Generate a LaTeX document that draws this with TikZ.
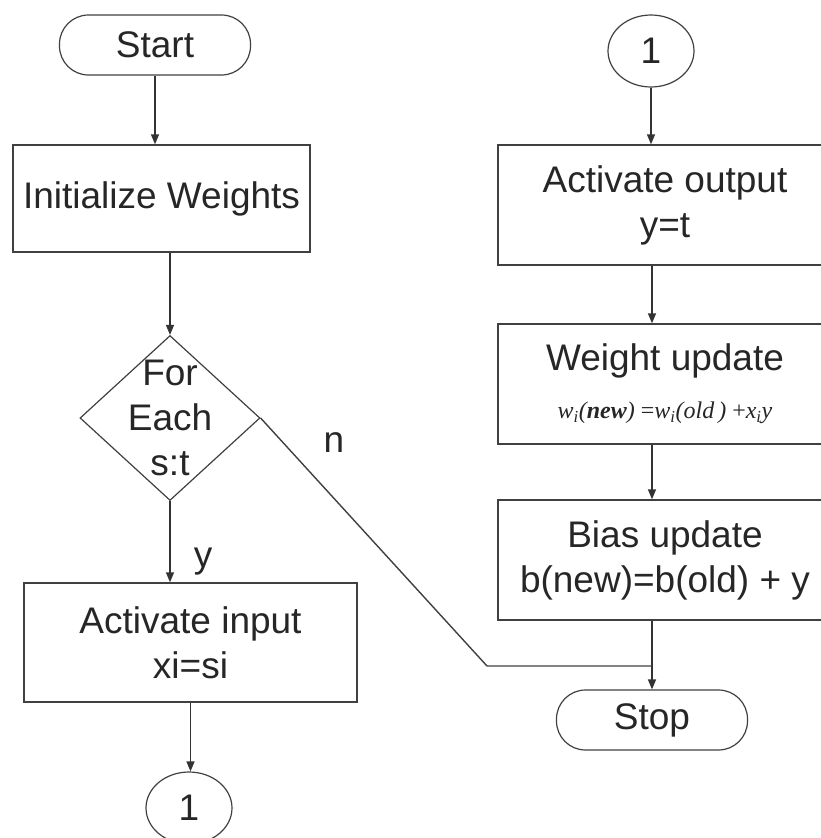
\documentclass[tikz,border=0pt]{standalone}
\usepackage{fontspec}
\setmainfont{Liberation Sans}
\newfontfamily\formulafont{Liberation Serif}
\usetikzlibrary{shapes.geometric}
\usetikzlibrary{arrows.meta}

\begin{document}
\begin{tikzpicture}[x=1pt, y=-1pt,
    every node/.style={text=black!85, font=\fontsize{37}{45}\selectfont},
    box/.style={draw=black!75, line width=1.4pt, minimum width=334pt, minimum height=120pt, inner sep=0pt, align=center},
    term/.style={draw=black!75, line width=1.2pt, rounded corners=29pt, minimum width=191pt, minimum height=60pt, inner sep=0pt},
    conn/.style={draw=black!75, line width=1.2pt, ellipse, minimum width=86pt, minimum height=72pt, inner sep=0pt},
    decision/.style={draw=black!75, line width=1.2pt, diamond, minimum width=180pt, minimum height=165pt, inner sep=0pt},
    arr/.style={-{Triangle[length=10pt,width=8pt]}, draw=black!80, line width=1.4pt},
    wire/.style={draw=black!75, line width=1.4pt}]
        \clip (0,0) rectangle (821,838);
        % left column
        \node[term] (start) at (155,45) {Start};
        \node[box, minimum width=297pt, minimum height=107pt] (init) at (161.5,198.5) {Initialize Weights};
        \node[decision, label={[align=center]center:For\\Each\\s:t}] (each) at (170,418) {};
        \node[box, minimum width=333pt, minimum height=119pt] (input) at (190.5,642.5) {Activate input\\xi=si};
        \node[conn] (outA) at (189,808) {1};
        \node[anchor=base] (ylab) at (203,567) {y};
        \node[anchor=base] (nlab) at (334,452) {n};
        % right column
        \node[conn] (inA) at (651,51) {1};
        \node[box] (actout) at (665,205) {Activate output\\y=t};
        \node[box] (wupd) at (665,384) {Weight update\\[3pt]{\formulafont\fontsize{24}{24}\selectfont\itshape w\textsubscript{i}(\textbf{new}) \textup{=}w\textsubscript{i}(old\,) \textup{+}x\textsubscript{i}y}};
        \node[box] (bupd) at (665,560) {Bias update\\b(new)=b(old) + y};
        \node[term] (stop) at (652,720) {Stop};
        \coordinate (bend) at (487,666);
        \coordinate (join) at (652,666);

        \draw[arr] (start.south) -- (start.south |- init.north);
        \draw[arr] (init.south -| each.north) -- (each.north);
        \draw[arr] (each.south) -- (each.south |- input.north);
        \draw[arr] (input.south) -- (input.south |- outA.north);
        \draw[arr] (inA.south) -- (inA.south |- actout.north);
        \draw[arr] (actout.south -| stop.north) -- (wupd.north -| stop.north);
        \draw[arr] (wupd.south -| stop.north) -- (bupd.north -| stop.north);
        \draw[arr] (bupd.south -| stop.north) -- (stop.north);
        \draw[wire] (each.east) -- (bend) -- (join);
    \end{tikzpicture}
\end{document}
